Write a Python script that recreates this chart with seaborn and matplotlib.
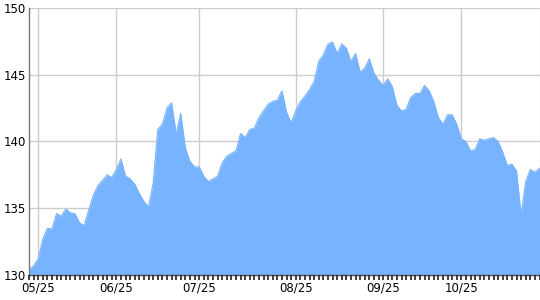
import matplotlib
matplotlib.use("Agg")
import matplotlib.pyplot as plt
from matplotlib.ticker import FixedLocator
import seaborn as sns
import pandas as pd
import numpy as np

values = [
    130.4, 130.7, 131.2, 132.7, 133.5, 133.45, 134.6, 134.4, 134.95, 134.65,
    134.6, 133.9, 133.7, 134.9, 136.0, 136.7, 137.1, 137.5, 137.3, 137.9,
    138.7, 137.4, 137.2, 136.8, 136.1, 135.5, 135.1, 136.9, 140.9, 141.3,
    142.5, 142.9, 140.6, 142.1, 139.5, 138.5, 138.1, 138.1, 137.4, 137.0,
    137.2, 137.4, 138.4, 138.9, 139.1, 139.3, 140.6, 140.3, 140.9, 141.0,
    141.8, 142.3, 142.8, 143.0, 143.1, 143.8, 142.2, 141.4, 142.3, 143.0,
    143.4, 143.9, 144.5, 146.0, 146.5, 147.3, 147.45, 146.6, 147.3, 147.0,
    146.0, 146.6, 145.2, 145.5, 146.2, 145.1, 144.6, 144.2, 144.7, 144.1,
    142.7, 142.3, 142.4, 143.3, 143.6, 143.6, 144.2, 143.8, 143.0, 141.8,
    141.3, 142.0, 142.0, 141.3, 140.2, 140.0, 139.3, 139.4, 140.2, 140.1,
    140.2, 140.3, 140.0, 139.2, 138.2, 138.3, 137.8, 134.5, 137.0, 137.9,
    137.7, 138.0,
]
label_positions = [2, 19, 37, 58, 77, 94]
label_texts = ["05/25", "06/25", "07/25", "08/25", "09/25", "10/25"]
y_ticks = [130, 135, 140, 145, 150]

df = pd.DataFrame({"idx": np.arange(len(values)), "price": values})

sns.set_style("white")
plt.rcParams["font.family"] = ["DejaVu Sans"]

fig = plt.figure(figsize=(5.4, 3.0), dpi=100)
ax = fig.add_axes([29 / 540, 25 / 300, 510.5 / 540, 267 / 300])

fill_color = "#78b3ff"
sns.lineplot(data=df, x="idx", y="price", ax=ax, color=fill_color, linewidth=0.8)
ax.fill_between(df["idx"], 130, df["price"], color=fill_color, linewidth=0, zorder=2)

ax.set_xlim(0, len(values) - 1)
ax.set_ylim(130, 150)
ax.set_yticks(y_ticks)
ax.set_yticklabels([str(v) for v in y_ticks])
ax.xaxis.set_major_locator(FixedLocator(label_positions))
ax.set_xticklabels(label_texts)
ax.set_xlabel("")
ax.set_ylabel("")

ax.grid(True, which="major", color="#cccccc", linewidth=1)
ax.set_axisbelow(True)

ax.tick_params(axis="y", which="both", left=False, length=0, pad=2, labelsize=8.5, colors="#000000")
ax.tick_params(axis="x", which="major", length=0, pad=5, labelsize=8.5, labelcolor="#000000")

# small tick marks under every data point
tick_h = 4.5 / 267
ax.vlines(df["idx"], -tick_h, 0, transform=ax.get_xaxis_transform(),
          colors="#111111", linewidth=1.1, clip_on=False, zorder=5)

ax.spines["top"].set_visible(False)
ax.spines["right"].set_color("#cccccc")
ax.spines["left"].set_color("#777777")
ax.spines["bottom"].set_color("#555555")
ax.spines["left"].set_linewidth(1)
ax.spines["bottom"].set_linewidth(1)

fig.savefig("out.png", dpi=100)
